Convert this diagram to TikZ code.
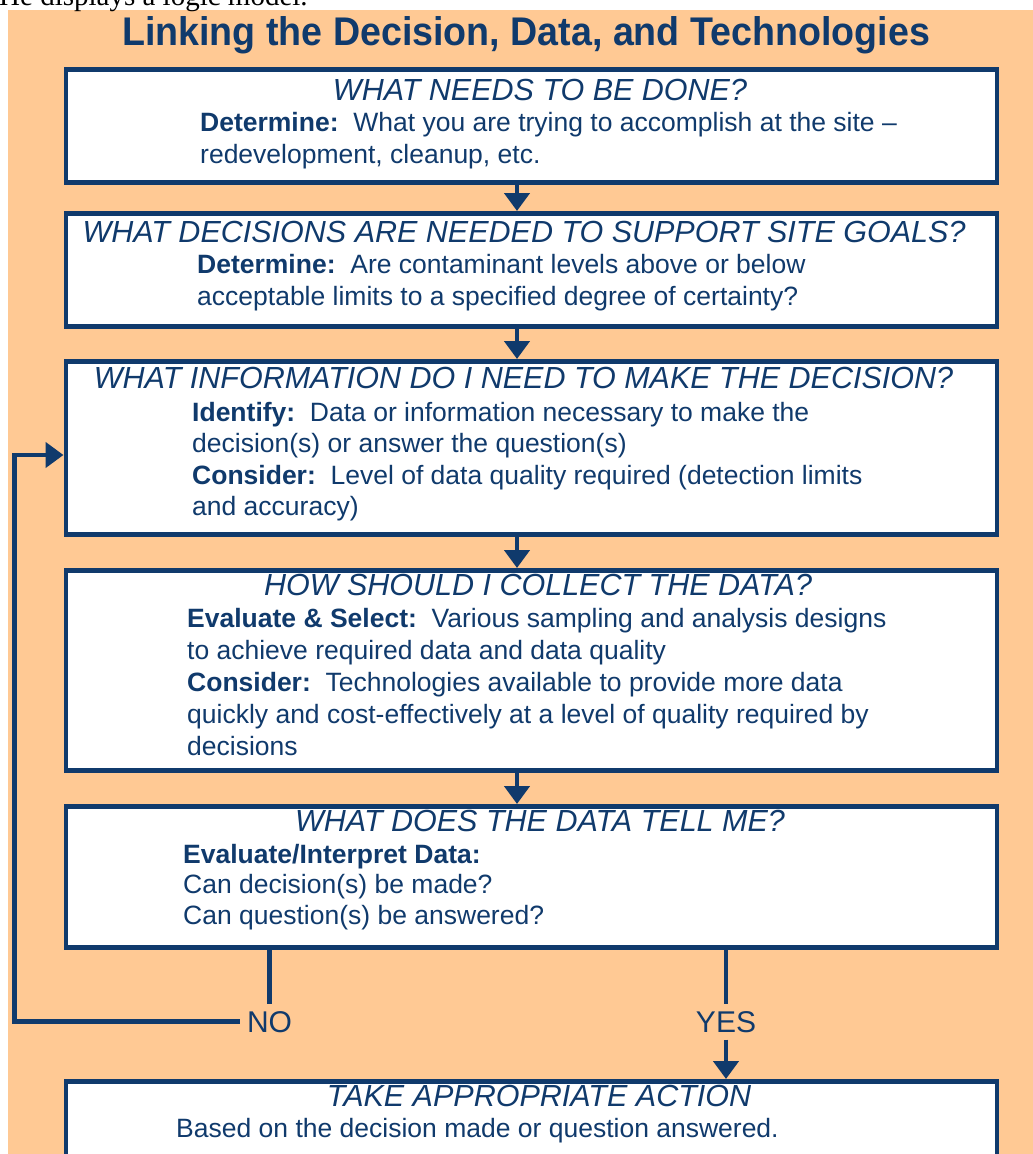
\documentclass[tikz,border=0pt]{standalone}
\usepackage{fontspec}
\usepackage{graphicx}
\setmainfont{Liberation Sans}
\newfontfamily\seriffont{Liberation Serif}
\usetikzlibrary{arrows.meta}
\definecolor{peach}{RGB}{255,201,148}
\definecolor{navy}{RGB}{16,58,108}
\begin{document}
\begin{tikzpicture}[x=1pt,y=-1pt,
  box/.style={draw=navy, line width=4.5pt, fill=white, rectangle, inner sep=0pt,
    anchor=north west, minimum width=931pt},
  ttl/.style={font=\fontsize{30.5}{36}\selectfont\itshape, text=navy, anchor=base, inner sep=0pt},
  bod/.style={font=\fontsize{26.5}{32}\selectfont, text=navy, anchor=base west, inner sep=0pt},
  lbl/.style={font=\fontsize{30}{36}\selectfont, text=navy, anchor=base, inner sep=7pt},
  conn/.style={draw=navy, line width=4.5pt},
  arr/.style={conn, -{Triangle[width=25pt,length=18pt]}}]
\useasboundingbox (0,0) rectangle (1033,1154);
\fill[white] (0,0) rectangle (1033,1154);
\fill[peach] (8,10) rectangle (1033,1154);
\node[font=\seriffont\fontsize{29}{32}\selectfont, anchor=base west, inner sep=0pt] (intro) at (-1,5) {He displays a logic model.};
\node[font=\fontsize{40}{48}\selectfont\bfseries, text=navy, anchor=base, inner sep=0pt] (title) at (526,45)
  {\scalebox{0.94}[1]{Linking the Decision, Data, and Technologies}};
% boxes
\node[box, minimum height=113pt] (b1) at (63.5,67) {};
\node[box, minimum height=113pt] (b2) at (63.5,211) {};
\node[box, minimum height=173pt] (b3) at (63.5,359) {};
\node[box, minimum height=200pt] (b4) at (63.5,568) {};
\node[box, minimum height=141pt] (b5) at (63.5,804) {};
\node[box, minimum height=110pt] (b6) at (63.5,1079) {};
% box 1
\node[ttl] (t1) at (540,100) {WHAT NEEDS TO BE DONE?};
\node[bod] (t1a) at (200,131) {\textbf{Determine:}\ \ What you are trying to accomplish at the site --};
\node[bod] (t1b) at (200,163) {redevelopment, cleanup, etc.};
% box 2
\node[ttl] (t2) at (524,242) {WHAT DECISIONS ARE NEEDED TO SUPPORT SITE GOALS?};
\node[bod] (t2a) at (197,273) {\textbf{Determine:}\ \ Are contaminant levels above or below};
\node[bod] (t2b) at (197,305) {acceptable limits to a specified degree of certainty?};
% box 3
\node[ttl] (t3) at (523.5,388) {WHAT INFORMATION DO I NEED TO MAKE THE DECISION?};
\node[bod] (t3a) at (192,421) {\textbf{Identify:}\ \ Data or information necessary to make the};
\node[bod] (t3b) at (192,452) {decision(s) or answer the question(s)};
\node[bod] (t3c) at (192,484) {\textbf{Consider:}\ \ Level of data quality required (detection limits};
\node[bod] (t3d) at (192,515) {and accuracy)};
% box 4
\node[ttl] (t4) at (538,595) {HOW SHOULD I COLLECT THE DATA?};
\node[bod] (t4a) at (187,627) {\textbf{Evaluate \& Select:}\ \ Various sampling and analysis designs};
\node[bod] (t4b) at (187,659) {to achieve required data and data quality};
\node[bod] (t4c) at (187,691) {\textbf{Consider:}\ \ Technologies available to provide more data};
\node[bod] (t4d) at (187,723) {quickly and cost-effectively at a level of quality required by};
\node[bod] (t4e) at (187,755) {decisions};
% box 5
\node[ttl] (t5) at (540,831) {WHAT DOES THE DATA TELL ME?};
\node[bod] (t5a) at (183,863) {\textbf{Evaluate/Interpret Data:}};
\node[bod] (t5b) at (183,893) {Can decision(s) be made?};
\node[bod] (t5c) at (183,924) {Can question(s) be answered?};
% box 6
\node[ttl] (t6) at (539,1106) {TAKE APPROPRIATE ACTION};
\node[bod] (t6a) at (176,1137) {Based on the decision made or question answered.};
% connectors
\coordinate (ax) at (517,0);
\draw[arr] (b1.south -| ax) -- (b2.north -| ax);
\draw[arr] (b2.south -| ax) -- (b3.north -| ax);
\draw[arr] (b3.south -| ax) -- (b4.north -| ax);
\draw[arr] (b4.south -| ax) -- (b5.north -| ax);
\node[lbl] (no) at (269.5,1032) {NO};
\node[lbl] (yes) at (726,1032) {YES};
\coordinate (c1) at (14.5,1022);
\coordinate (c2) at (14.5,455);
\draw[conn] (b5.south -| no.north) -- (no.north);
\draw[arr] (no.west) -- (no.west -| c1) -- (c2) -- (c2 -| b3.west);
\draw[conn] (b5.south -| yes.north) -- (yes.north);
\draw[arr] (yes.south) -- (b6.north -| yes.south);
\end{tikzpicture}
\end{document}
